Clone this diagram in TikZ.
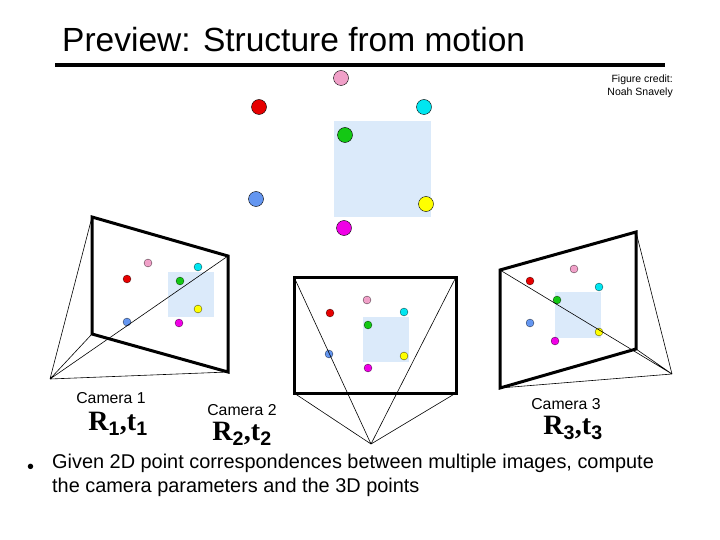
\documentclass[tikz,border=0pt]{standalone}
\usepackage{fontspec}
\setmainfont{Liberation Sans}
\newfontfamily\serifbf{Liberation Serif}[Scale=1.0]
\usetikzlibrary{positioning}
\definecolor{pale}{RGB}{219,234,250}
\definecolor{ptpink}{RGB}{240,160,200}
\definecolor{ptred}{RGB}{230,0,0}
\definecolor{ptcyan}{RGB}{0,230,240}
\definecolor{ptgreen}{RGB}{20,200,20}
\definecolor{ptyellow}{RGB}{255,255,0}
\definecolor{ptblue}{RGB}{100,150,240}
\definecolor{ptmag}{RGB}{240,0,230}
\tikzset{
  wpt/.style={circle,draw=black,thin,inner sep=0pt,minimum size=15pt},
  ipt/.style={circle,draw=black,very thin,inner sep=0pt,minimum size=8pt},
  frame/.style={line width=3pt,line join=miter},
  ray/.style={line width=0.6pt},
  caml/.style={font=\fontsize{15.8}{18}\selectfont},
  rtl/.style={font=\serifbf\bfseries\fontsize{28}{30}\selectfont}
}
% seven dots: pink, red, cyan, green, yellow, blue, magenta
\newcommand{\ptset}[9]{%
  \fill[pale] (#1) rectangle (#2);
  \node[ipt,fill=ptpink] at (#3) {};
  \node[ipt,fill=ptred] at (#4) {};
  \node[ipt,fill=ptcyan] at (#5) {};
  \node[ipt,fill=ptgreen] at (#6) {};
  \node[ipt,fill=ptyellow] at (#7) {};
  \node[ipt,fill=ptblue] at (#8) {};
  \node[ipt,fill=ptmag] at (#9) {};}
\begin{document}
\begin{tikzpicture}[x=1pt,y=-1pt]
  \useasboundingbox (0,0) rectangle (720,540);

  % Titel
  \node[anchor=base west,font=\fontsize{33.5}{36}\selectfont,inner sep=0pt] (title) at (62,52) {Preview: Structure from motion};
  \draw[line width=3.5pt] (55,65) -- (665,65);
  \node[align=right,anchor=north east,font=\fontsize{10.5}{13}\selectfont,inner sep=0pt] (credit) at (673,75) {Figure credit:\\Noah Snavely};

  % 3D points
  \fill[pale] (334,121) rectangle (431,217);
  \node[wpt,fill=ptpink] (p) at (341,78) {};
  \node[wpt,fill=ptred] (r) at (259,107) {};
  \node[wpt,fill=ptcyan] (c) at (424,107) {};
  \node[wpt,fill=ptgreen] (g) at (345,135) {};
  \node[wpt,fill=ptyellow] (y) at (426,204) {};
  \node[wpt,fill=ptblue] (b) at (256,199) {};
  \node[wpt,fill=ptmag] (m) at (344,228) {};

  % Camera 1
  \coordinate (o1) at (50,379);
  \coordinate (a1) at (92,217); \coordinate (b1) at (228,256);
  \coordinate (c1) at (228,372); \coordinate (d1) at (92,334);
  \ptset{168,272}{214,317}{148,263}{127,279}{198,267}{180,281}{198,309}{127,322}{179,323}
  \draw[ray] (o1) -- (a1) (o1) -- (d1) (o1) -- (b1) (o1) -- (c1);
  \draw[frame] (a1) -- (b1) -- (c1) -- (d1) -- cycle;
  \node[caml] (cam1) at (111,398) {Camera 1};
  \node[rtl] (rt1) at (118,424) {R$_{\mathbf 1}$,t$_{\mathbf 1}$};

  % Camera 2
  \coordinate (o2) at (371,444);
  \coordinate (a2) at (294,277); \coordinate (b2) at (456,277);
  \coordinate (c2) at (456,393); \coordinate (d2) at (294,393);
  \ptset{363,317}{409,362}{367,300}{330,313}{404,312}{368,325}{404,356}{329,354}{368,368}
  \draw[ray] (o2) -- (a2) (o2) -- (b2) (o2) -- (c2) (o2) -- (d2);
  \draw[frame] (a2) -- (b2) -- (c2) -- (d2) -- cycle;
  \node[caml] (cam2) at (242,410) {Camera 2};
  \node[rtl] (rt2) at (242,434) {R$_{\mathbf 2}$,t$_{\mathbf 2}$};

  % Camera 3
  \coordinate (o3) at (672,374);
  \coordinate (a3) at (500,270); \coordinate (b3) at (636,232);
  \coordinate (c3) at (636,349); \coordinate (d3) at (500,388);
  \ptset{555,292}{601,338}{574,269}{530,281}{599,287}{557,300}{599,332}{530,323}{555,341}
  \draw[ray] (o3) -- (a3) (o3) -- (b3) (o3) -- (c3) (o3) -- (d3);
  \draw[frame] (a3) -- (b3) -- (c3) -- (d3) -- cycle;
  \node[caml] (cam3) at (566,404) {Camera 3};
  \node[rtl] (rt3) at (573,428) {R$_{\mathbf 3}$,t$_{\mathbf 3}$};

  % Text
  \node[anchor=base west,inner sep=0pt,font=\fontsize{19.9}{24}\selectfont] (bul) at (27,473) {\textbullet};
  \node[anchor=north west,inner sep=0pt,align=left,font=\fontsize{19.9}{24}\selectfont] (txt) at (52,454)
    {Given 2D point correspondences between multiple images, compute\\the camera parameters and the 3D points};
\end{tikzpicture}
\end{document}
